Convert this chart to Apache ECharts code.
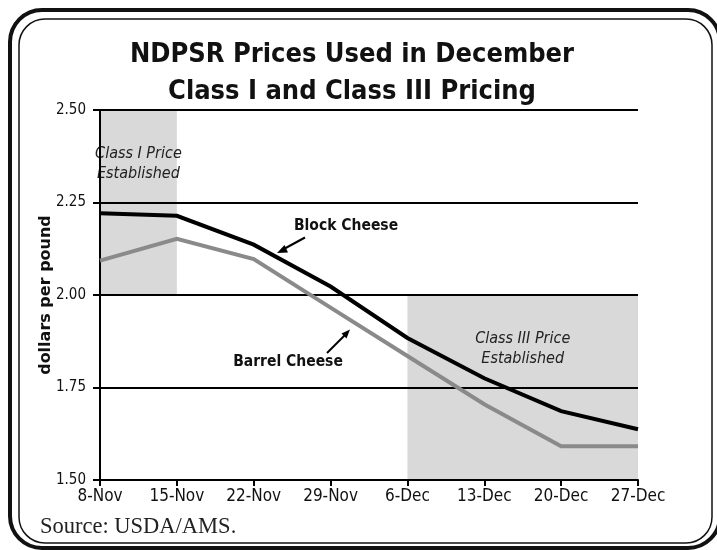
<!DOCTYPE html>
<html>
<head>
<meta charset="utf-8">
<script src="https://cdn.jsdelivr.net/npm/echarts@6/dist/echarts.min.js"></script>
<style>html,body{margin:0;padding:0;background:#fff;}#c{width:717px;height:550px;}</style>
</head>
<body>
<div id="c"></div>
<script>
var categories = ['8-Nov','15-Nov','22-Nov','29-Nov','6-Dec','13-Dec','20-Dec','27-Dec'];
var blockCheese = [2.221, 2.214, 2.136, 2.023, 1.884, 1.775, 1.686, 1.637];
var barrelCheese = [2.093, 2.152, 2.097, 1.966, 1.835, 1.705, 1.591, 1.591];
var yTicks = [1.50, 1.75, 2.00, 2.25, 2.50];
var classIRange = {from: '8-Nov', to: '15-Nov', low: 2.00, high: 2.50};
var classIIIRange = {from: '6-Dec', to: '27-Dec', low: 1.50, high: 2.00};

var NARROW = "'Liberation Sans Narrow','DejaVu Sans Condensed','Liberation Sans',Arial,sans-serif";
var chart = echarts.init(document.getElementById('c'), null, {renderer: 'canvas'});

var option = {
  backgroundColor: '#ffffff',
  animation: false,
  title: {
    text: 'NDPSR Prices Used in December\nClass I and Class III Pricing',
    left: 347, top: 31, textAlign: 'center',
    textStyle: {fontFamily: NARROW, fontWeight: 'bold', fontSize: 27, lineHeight: 37, color: '#111'}
  },
  grid: {left: 100, right: 79, top: 110, bottom: 70, containLabel: false},
  xAxis: {
    type: 'category', data: categories, boundaryGap: false, z: 3,
    axisLine: {lineStyle: {color: '#000', width: 2}},
    axisTick: {show: true, length: 6, lineStyle: {color: '#000', width: 2}},
    axisLabel: {fontFamily: NARROW, fontSize: 17, color: '#111', margin: 8},
    splitLine: {show: false}
  },
  yAxis: {
    type: 'value', min: yTicks[0], max: yTicks[yTicks.length - 1], interval: 0.25, z: 3,
    name: 'dollars per pound', nameLocation: 'middle', nameGap: 46, nameRotate: 90,
    nameMoveOverlap: false,
    nameTextStyle: {fontFamily: "'DejaVu Sans',sans-serif", fontWeight: 'bold', fontSize: 16, color: '#111'},
    axisLine: {show: true, lineStyle: {color: '#000', width: 2}},
    axisTick: {show: true, length: 7, lineStyle: {color: '#000', width: 2}},
    axisLabel: {fontFamily: NARROW, fontSize: 15, color: '#111', margin: 14, formatter: function (v) { return v.toFixed(2); }},
    splitLine: {show: true, lineStyle: {color: '#000', width: 2}}
  },
  series: [
    {
      name: 'shade', type: 'line', z: 1, silent: true,
      data: categories.map(function () { return null; }),
      symbol: 'none', lineStyle: {width: 0},
      markArea: {
        silent: true,
        itemStyle: {color: '#d9d9d9'},
        label: {
          show: true, position: 'insideTop', distance: 34,
          fontFamily: NARROW, fontStyle: 'italic', fontSize: 16, lineHeight: 20, color: '#222'
        },
        data: [
          [{name: 'Class I Price\nEstablished', xAxis: classIRange.from, yAxis: classIRange.high},
           {xAxis: classIRange.to, yAxis: classIRange.low}],
          [{name: 'Class III Price\nEstablished', xAxis: classIIIRange.from, yAxis: classIIIRange.high},
           {xAxis: classIIIRange.to, yAxis: classIIIRange.low}]
        ]
      }
    },
    {
      name: 'Barrel Cheese', type: 'line', z: 5, data: barrelCheese, symbol: 'none',
      lineStyle: {color: '#8a8a8a', width: 4, join: 'miter'}
    },
    {
      name: 'Block Cheese', type: 'line', z: 6, data: blockCheese, symbol: 'none',
      lineStyle: {color: '#000', width: 4, join: 'miter'}
    }
  ],
  graphic: [
    {type: 'rect', z: 100, shape: {x: 10, y: 10, width: 710, height: 538, r: 32}, style: {fill: null, stroke: '#111', lineWidth: 4}},
    {type: 'rect', z: 100, shape: {x: 19, y: 19, width: 693, height: 524, r: 26}, style: {fill: null, stroke: '#111', lineWidth: 1.5}},
    {type: 'text', z: 100, left: 40, top: 516, style: {text: 'Source: USDA/AMS.', fontFamily: "'Liberation Serif','DejaVu Serif',serif", fontSize: 22.5, fill: '#222'}},
    {type: 'text', z: 100, x: 346, y: 226, style: {text: 'Block Cheese', fontFamily: NARROW, fontWeight: 'bold', fontSize: 15.5, fill: '#111', align: 'center', verticalAlign: 'middle'}},
    {type: 'text', z: 100, x: 288, y: 362, style: {text: 'Barrel Cheese', fontFamily: NARROW, fontWeight: 'bold', fontSize: 15.5, fill: '#111', align: 'center', verticalAlign: 'middle'}},
    {type: 'line', z: 100, shape: {x1: 305, y1: 237.5, x2: 282, y2: 250}, style: {stroke: '#000', lineWidth: 2}},
    {type: 'polygon', z: 100, shape: {points: [[277, 253], [284.5, 245], [288, 252.5]]}, style: {fill: '#000'}},
    {type: 'line', z: 100, shape: {x1: 327, y1: 353, x2: 346, y2: 334}, style: {stroke: '#000', lineWidth: 2}},
    {type: 'polygon', z: 100, shape: {points: [[350, 329.5], [341.5, 333.5], [346.5, 338.5]]}, style: {fill: '#000'}}
  ]
};
chart.setOption(option);
</script>
</body>
</html>
